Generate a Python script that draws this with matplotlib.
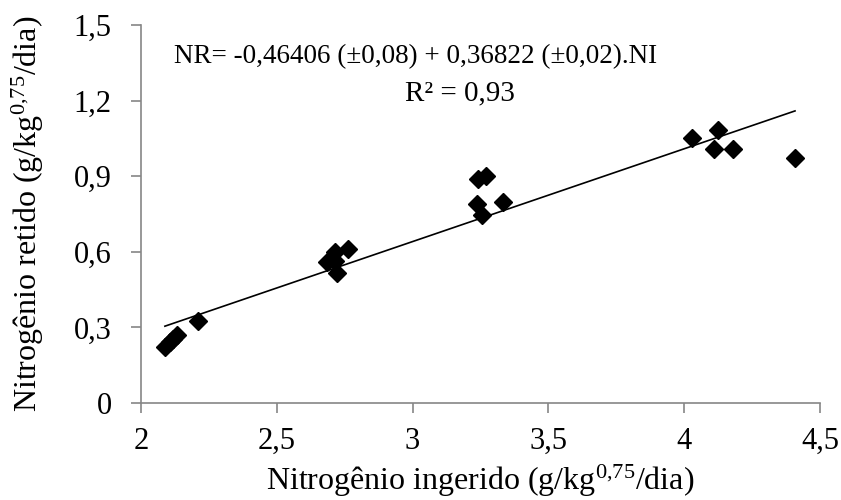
import matplotlib
matplotlib.use("Agg")
import matplotlib.pyplot as plt
import numpy as np

plt.rcParams['font.family'] = ['Liberation Serif', 'DejaVu Serif']
plt.rcParams['mathtext.fontset'] = 'custom'
plt.rcParams['mathtext.rm'] = 'Liberation Serif'
plt.rcParams['mathtext.it'] = 'Liberation Serif:italic'

# Data
n_ingerido = [2.088, 2.107, 2.118, 2.131, 2.211,
              2.684, 2.714, 2.714, 2.720, 2.763,
              3.236, 3.242, 3.254, 3.270, 3.334,
              4.030, 4.111, 4.126, 4.181, 4.408]
n_retido = [0.223, 0.243, 0.254, 0.270, 0.327,
            0.558, 0.600, 0.565, 0.517, 0.611,
            0.790, 0.889, 0.746, 0.902, 0.796,
            1.053, 1.008, 1.083, 1.008, 0.971]

intercept = -0.46406
slope = 0.36822

xticks = [2, 2.5, 3, 3.5, 4, 4.5]
xtick_labels = ['2', '2,5', '3', '3,5', '4', '4,5']
yticks = [0, 0.3, 0.6, 0.9, 1.2, 1.5]
ytick_labels = ['0', '0,3', '0,6', '0,9', '1,2', '1,5']

fig = plt.figure(figsize=(8.41, 5.0), dpi=100)
ax = fig.add_axes([141/841, 97/500, (820-141)/841, (403-25)/500])

ax.plot(n_ingerido, n_retido, linestyle='none', marker='D', color='black',
        markersize=9, zorder=3)

xs = np.array([min(n_ingerido), max(n_ingerido)])
ax.plot(xs, intercept + slope * xs, color='black', linewidth=1.2, zorder=2)

ax.set_xlim(2, 4.5)
ax.set_ylim(0, 1.5)
ax.set_xticks(xticks)
ax.set_xticklabels(xtick_labels)
ax.set_yticks(yticks)
ax.set_yticklabels(ytick_labels)

gray = '#868686'
for s in ['top', 'right']:
    ax.spines[s].set_visible(False)
for s in ['left', 'bottom']:
    ax.spines[s].set_color(gray)
    ax.spines[s].set_linewidth(1.2)
ax.tick_params(axis='both', direction='out', length=7, width=1.2, color=gray,
               labelsize=22, labelcolor='black')
ax.tick_params(axis='x', pad=10)
ax.tick_params(axis='y', pad=14)

ax.set_xlabel('Nitrogênio ingerido (g/kg$^{0{,}75}$/dia)', fontsize=23, labelpad=5)
ax.set_ylabel('Nitrogênio retido (g/kg$^{0{,}75}$/dia)', fontsize=23, labelpad=20)

fig.text(416/841, 1 - 57/500, 'NR= -0,46406 (±0,08) + 0,36822 (±0,02).NI',
         fontsize=19.5, ha='center', va='center')
fig.text(460/841, 1 - 93/500, 'R² = 0,93', fontsize=21, ha='center', va='center')

fig.savefig('out.png', dpi=100)
